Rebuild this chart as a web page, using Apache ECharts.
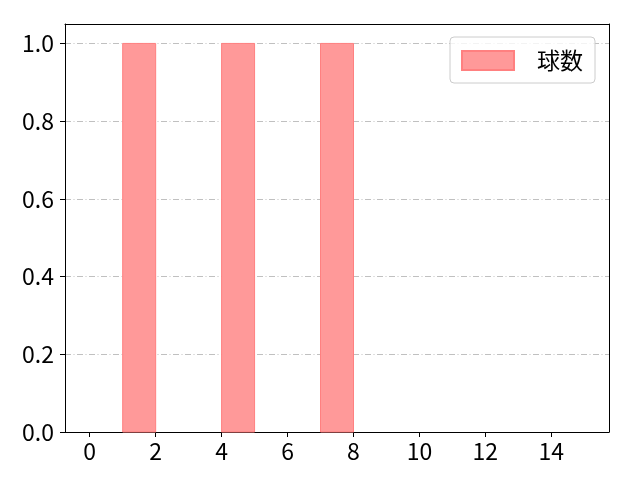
<!DOCTYPE html>
<html>
<head>
<meta charset="utf-8">
<script src="https://cdn.jsdelivr.net/npm/echarts@6/dist/echarts.min.js"></script>
<style>
    html, body { margin: 0; padding: 0; background: #fff; }
    #chart { width: 640px; height: 480px; }
</style>
</head>
<body>
<div id="chart"></div>
<script>
// ビンの左端・右端と度数
var binStart = [1, 4, 7];
var binEnd = [2, 5, 8];
var counts = [1, 1, 1];
var xTicks = [0, 2, 4, 6, 8, 10, 12, 14];
var seriesName = '球数';

var barData = binStart.map(function(s, i){
    return [s, binEnd[i], counts[i]];
});

var chart = echarts.init(document.getElementById('chart'));
var font = 'Noto Sans CJK JP, sans-serif';
var black = { color: '#000', width: 1 };

// 枠線用の軸 (線のみ)
function frameAxis(extra){
    var a = {
        type: 'value',
        axisLine: { show: true, onZero: true, lineStyle: black },
        axisTick: { show: false },
        axisLabel: { show: false },
        splitLine: { show: false }
    };
    for (var k in extra) a[k] = extra[k];
    return a;
}
function dummyAxis(min, max){
    return { type: 'value', min: min, max: max, show: false, splitLine: { show: false } };
}

var option = {
    animation: false,
    backgroundColor: '#ffffff',
    grid: { left: 65, right: 31, top: 24, bottom: 48 },
    legend: {
        right: 45, top: 37,
        orient: 'vertical',
        icon: 'rect',
        itemWidth: 52, itemHeight: 19,
        itemGap: 0,
        padding: [12, 12, 11, 11],
        borderColor: '#cccccc', borderWidth: 1, borderRadius: 4,
        backgroundColor: 'rgba(255,255,255,0.8)',
        textStyle: { fontFamily: font, fontSize: 23, color: '#000', padding: [0, 0, 0, 18] },
        data: [seriesName]
    },
    xAxis: [{
        type: 'value',
        min: -0.75, max: 15.75,
        axisLine: { show: true, lineStyle: black },
        axisTick: { show: true, length: 5, lineStyle: black, customValues: xTicks },
        axisLabel: { fontFamily: font, fontSize: 23, color: '#000', margin: 8, customValues: xTicks },
        splitLine: { show: false }
    },
    frameAxis({ position: 'top', min: -0.75, max: 15.75,
        axisLine: { show: true, onZero: true, onZeroAxisIndex: 2, lineStyle: black } }),
    dummyAxis(0, 16.5),
    dummyAxis(-16.5, 0)],
    yAxis: [{
        type: 'value',
        min: 0, max: 1.05, interval: 0.2,
        axisLine: { show: true, onZero: true, onZeroAxisIndex: 2, lineStyle: black },
        axisTick: { show: true, length: 5, lineStyle: black },
        axisLabel: {
            fontFamily: font, fontSize: 23, color: '#000', margin: 11, showMaxLabel: false,
            formatter: function(v){ return v.toFixed(1); }
        },
        splitLine: { show: true, lineStyle: { color: '#b0b0b0', width: 0.8, type: [6, 2.5, 1, 2.5] } }
    },
    frameAxis({ position: 'right', min: 0, max: 1.05,
        axisLine: { show: true, onZero: true, onZeroAxisIndex: 3, lineStyle: black } }),
    dummyAxis(-1.05, 0)],
    series: [{
        name: seriesName,
        type: 'custom',
        xAxisIndex: 0,
        yAxisIndex: 0,
        itemStyle: { color: 'rgba(255,153,153,1)', borderColor: '#ff8080', borderWidth: 1 },
        renderItem: function(params, api){
            var p0 = api.coord([api.value(0), api.value(2)]);
            var p1 = api.coord([api.value(1), 0]);
            return {
                type: 'rect',
                shape: { x: p0[0], y: p0[1], width: p1[0] - p0[0], height: p1[1] - p0[1] },
                style: { fill: 'rgba(255,153,153,1)', stroke: '#ff8080', lineWidth: 1 }
            };
        },
        encode: { x: [0, 1], y: 2 },
        data: barData
    }]
};
chart.setOption(option);
</script>
</body>
</html>
